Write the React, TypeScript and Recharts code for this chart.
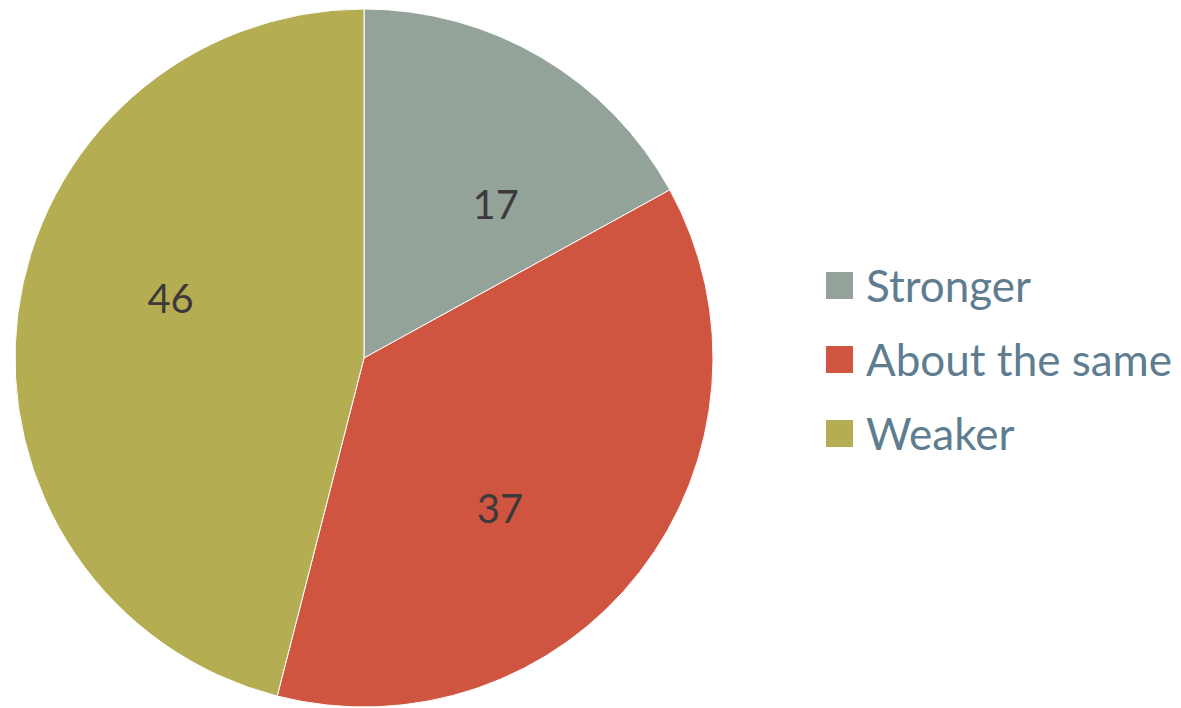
import React from 'react'
import { PieChart, Pie, Cell, Legend } from 'recharts'

document.body.style.margin = '0'

const categories = ['Stronger', 'About the same', 'Weaker']
const values = [17, 37, 46]
const colors = ['#94a39a', '#d05540', '#b5ad52']

const data = categories.map((name, i) => ({ name, value: values[i] }))

const RAD = Math.PI / 180
const FONT = "Lato, 'Open Sans', sans-serif"

// labels sit a little clockwise of the slice middle, as in the original
function renderLabel(props: any) {
  const { cx, cy, midAngle, outerRadius, value } = props
  const r = outerRadius * 0.58
  const a = (midAngle - 10) * RAD
  const x = cx + r * Math.cos(-a)
  const y = cy + r * Math.sin(-a)
  return (
    <text
      x={x}
      y={y}
      fill="#3d393b"
      fontSize={40}
      fontFamily={FONT}
      textAnchor="middle"
      dominantBaseline="central"
    >
      {value}
    </text>
  )
}

function LegendList() {
  return (
    <div style={{ fontFamily: FONT }}>
      {data.map((d, i) => (
        <div key={d.name} style={{ display: 'flex', alignItems: 'center', height: 74 }}>
          <span style={{ width: 27, height: 27, background: colors[i], display: 'inline-block', marginRight: 13, flexShrink: 0 }} />
          <span style={{ fontSize: 44, color: '#5f7d91', whiteSpace: 'nowrap' }}>{d.name}</span>
        </div>
      ))}
    </div>
  )
}

export default function App() {
  return (
    <PieChart width={1181} height={708} margin={{ top: 0, right: 0, bottom: 0, left: 0 }}>
      <Pie
        data={data}
        dataKey="value"
        nameKey="name"
        cx={364}
        cy={358}
        outerRadius={349}
        startAngle={90}
        endAngle={-270}
        stroke="#ffffff"
        strokeWidth={1}
        label={renderLabel}
        labelLine={false}
        isAnimationActive={false}
      >
        {data.map((d, i) => (
          <Cell key={d.name} fill={colors[i]} />
        ))}
      </Pie>
      <Legend
        content={<LegendList />}
        wrapperStyle={{ left: 826, top: 248, width: 355 }}
      />
    </PieChart>
  )
}
